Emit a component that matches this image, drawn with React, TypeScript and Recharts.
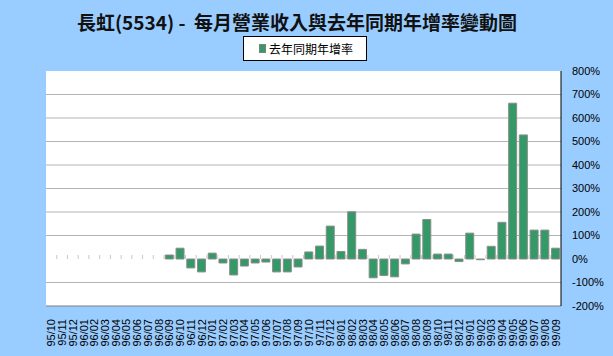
import React from 'react';
import { BarChart, Bar, XAxis, YAxis, CartesianGrid, ReferenceLine } from 'recharts';

// 95/10 ~ 99/09 monthly
const months = [
  '95/10', '95/11', '95/12',
  '96/01', '96/02', '96/03', '96/04', '96/05', '96/06', '96/07', '96/08', '96/09', '96/10', '96/11', '96/12',
  '97/01', '97/02', '97/03', '97/04', '97/05', '97/06', '97/07', '97/08', '97/09', '97/10', '97/11', '97/12',
  '98/01', '98/02', '98/03', '98/04', '98/05', '98/06', '98/07', '98/08', '98/09', '98/10', '98/11', '98/12',
  '99/01', '99/02', '99/03', '99/04', '99/05', '99/06', '99/07', '99/08', '99/09',
];

// 去年同期年增率 (%), null = no data
const yoyGrowth: (number | null)[] = [
  null, null, null,
  null, null, null, null, null, null, null, null, 17, 46, -38, -55,
  25, -17, -68, -30, -17, -13, -55, -55, -34, 30, 55, 140,
  32, 201, 41, -80, -70, -76, -21, 106, 168, 21, 21, -11,
  110, -3, 54, 156, 663, 528, 123, 123, 46,
];

const yTicks = [-200, -100, 0, 100, 200, 300, 400, 500, 600, 700, 800];
const gridValues = [-100, 100, 200, 300, 400, 500, 600, 700];

const data = months.map((m, i) => ({ month: m, yoy: yoyGrowth[i] }));

const MonthTick = (props: any) => {
  const { x, y, payload } = props;
  return (
    <text
      x={x}
      y={y}
      transform={`rotate(-90 ${x} ${y})`}
      textAnchor="end"
      dominantBaseline="central"
      fontSize={11}
      fontFamily="Liberation Sans, Arial, sans-serif"
      fill="#000"
    >
      {payload.value}
    </text>
  );
};

// category boundary ticks along the zero line
const ZeroTicks = (props: any) => {
  const { x1, x2, y1 } = props;
  const n = months.length;
  const step = (x2 - x1) / n;
  return (
    <g>
      {months.slice(1).map((_, k) => {
        const x = x1 + (k + 1) * step;
        return <line key={k} x1={x} x2={x} y1={y1 - 4} y2={y1} stroke="#c8c8c8" strokeWidth={1} />;
      })}
    </g>
  );
};

const App: React.FC = () => {
  return (
    <div
      style={{
        position: 'fixed',
        left: 0,
        top: 0,
        width: 613,
        height: 356,
        background: '#99CCFF',
        overflow: 'hidden',
      }}
    >
      <div
        style={{
          position: 'absolute',
          left: 0,
          width: 594,
          top: 9,
          textAlign: 'center',
          fontFamily: '"Noto Sans CJK TC", sans-serif',
          fontWeight: 'bold',
          fontSize: 19,
          color: '#111',
          whiteSpace: 'pre',
          lineHeight: '26px',
        }}
      >
        長虹(5534) -  每月營業收入與去年同期年增率變動圖
      </div>
      <div
        style={{
          position: 'absolute',
          left: 243,
          top: 36,
          width: 122,
          height: 23,
          background: '#fff',
          border: '1px solid #000',
          display: 'flex',
          alignItems: 'center',
          fontFamily: '"Noto Sans CJK TC", sans-serif',
          fontSize: 12,
          color: '#000',
        }}
      >
        <span
          style={{
            display: 'inline-block',
            width: 5,
            height: 7,
            background: '#339966',
            border: '1px solid #808080',
            marginLeft: 15,
            marginRight: 3,
          }}
        />
        去年同期年增率
      </div>
      <div style={{ position: 'absolute', left: 0, top: 0 }}>
        <BarChart
          width={613}
          height={356}
          data={data}
          margin={{ top: 71, right: 0, left: 46, bottom: 0 }}
          barCategoryGap="12%"
        >
          <CartesianGrid
            vertical={false}
            horizontalValues={gridValues}
            stroke="#b4b4b4"
            fill="#ffffff"
            fillOpacity={1}
          />
          <XAxis
            dataKey="month"
            interval={0}
            height={50}
            tickLine={false}
            tickSize={0}
            tickMargin={13}
            tick={<MonthTick />}
            axisLine={{ stroke: '#808080' }}
          />
          <YAxis
            yAxisId="l"
            orientation="left"
            width={0}
            domain={[-200, 800]}
            tick={false}
            tickLine={false}
            axisLine={{ stroke: '#808080' }}
          />
          <YAxis
            orientation="right"
            width={52}
            domain={[-200, 800]}
            ticks={yTicks}
            interval={0}
            tickLine={false}
            tickSize={0}
            tickMargin={11}
            axisLine={{ stroke: '#000' }}
            tickFormatter={(v: number) => `${v}%`}
            tick={{ fontSize: 11, fill: '#000', fontFamily: 'Liberation Sans, Arial, sans-serif', textAnchor: 'start' }}
          />
          <ReferenceLine y={0} stroke="none" shape={<ZeroTicks />} />
          <Bar
            dataKey="yoy"
            fill="#339966"
            stroke="#8c8c8c"
            strokeWidth={1}
            isAnimationActive={false}
          />
        </BarChart>
      </div>
    </div>
  );
};

export default App;
